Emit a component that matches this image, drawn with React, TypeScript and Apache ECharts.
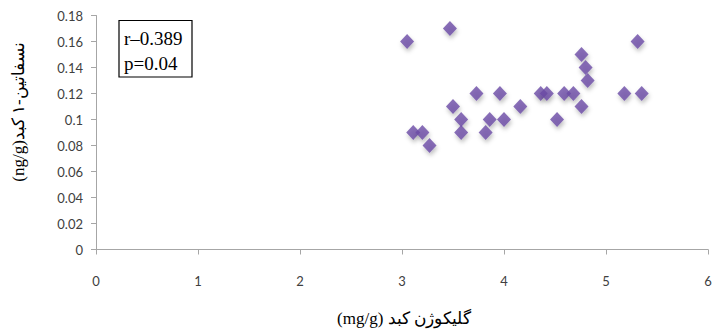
import React, { useEffect, useRef } from "react";
import * as echarts from "echarts";

const glycogen: number[] = [3.05, 3.47, 5.31, 4.76, 4.8, 4.82, 3.73, 3.96, 4.36, 4.42, 4.59, 4.68, 5.18, 5.35, 3.5, 4.16, 4.76, 3.58, 3.86, 4.0, 4.52, 3.11, 3.2, 3.58, 3.82, 3.27];
const nesfatin: number[] = [0.16, 0.17, 0.16, 0.15, 0.14, 0.13, 0.12, 0.12, 0.12, 0.12, 0.12, 0.12, 0.12, 0.12, 0.11, 0.11, 0.11, 0.1, 0.1, 0.1, 0.1, 0.09, 0.09, 0.09, 0.09, 0.08];
const xTicks: string[] = ["0", "1", "2", "3", "4", "5", "6"];
const yTicks: string[] = ["0", "0.02", "0.04", "0.06", "0.08", "0.1", "0.12", "0.14", "0.16", "0.18"];
const statLines: string[] = ["r–0.389", "p=0.04"];
const xTitle = "(mg/g) گلیکوژن کبد";
const yTitle = "(ng/g)نسفاتین-۱ کبد";

export default function App() {
  const ref = useRef<HTMLDivElement>(null);
  useEffect(() => {
    if (!ref.current) return;
    const chart = echarts.init(ref.current, null, { renderer: "svg" });
    const data = glycogen.map((x, i) => [x, nesfatin[i]]);
    chart.setOption({
      animation: false,
      backgroundColor: "#ffffff",
      grid: { left: 96, right: 7, top: 15.5, bottom: 83.5, containLabel: false },
      xAxis: {
        type: "value",
        min: 0,
        max: 6,
        interval: 1,
        axisLine: { show: true, lineStyle: { color: "#a6a6a6", width: 1 } },
        axisTick: { show: true, inside: false, length: 5, lineStyle: { color: "#a6a6a6" } },
        splitLine: { show: false },
        axisLabel: {
          margin: 25,
          color: "#404040",
          fontSize: 13,
          fontFamily: "Lato, 'Open Sans', sans-serif",
          formatter: (v: number) => xTicks[Math.round(v)] ?? "",
        },
      },
      yAxis: {
        type: "value",
        min: 0,
        max: 0.18,
        interval: 0.02,
        axisLine: { show: true, lineStyle: { color: "#a6a6a6", width: 1 } },
        axisTick: { show: true, inside: false, length: 5, lineStyle: { color: "#a6a6a6" } },
        splitLine: { show: false },
        axisLabel: {
          margin: 13,
          color: "#404040",
          fontSize: 13,
          fontFamily: "Lato, 'Open Sans', sans-serif",
          formatter: (v: number) => yTicks[Math.round(v / 0.02)] ?? "",
        },
      },
      series: [
        {
          type: "scatter",
          data,
          symbol: "diamond",
          symbolSize: [14, 15],
          itemStyle: {
            color: "#6a4aa5",
            shadowColor: "rgba(0,0,0,0.3)",
            shadowBlur: 4,
            shadowOffsetX: 1,
            shadowOffsetY: 3,
          },
        },
      ],
      graphic: [
        {
          type: "rect",
          shape: { x: 119, y: 20.5, width: 73, height: 56.5 },
          style: { fill: "#ffffff", stroke: "#000000", lineWidth: 1.2 },
        },
        {
          type: "text",
          x: 124,
          y: 38,
          style: {
            text: statLines[0],
            fill: "#000",
            font: "19px 'Liberation Serif', 'Times New Roman', serif",
            verticalAlign: "middle",
          },
        },
        {
          type: "text",
          x: 124,
          y: 63,
          style: {
            text: statLines[1],
            fill: "#000",
            font: "19px 'Liberation Serif', 'Times New Roman', serif",
            verticalAlign: "middle",
          },
        },
        {
          type: "text",
          x: 404,
          y: 318,
          style: {
            text: xTitle,
            fill: "#000",
            font: "17px 'Liberation Serif', 'DejaVu Serif', serif",
            align: "center",
            verticalAlign: "middle",
          },
        },
        {
          type: "text",
          x: 18,
          y: 112,
          rotation: Math.PI / 2,
          style: {
            text: yTitle,
            fill: "#000",
            font: "17px 'Liberation Serif', 'DejaVu Serif', serif",
            align: "center",
            verticalAlign: "middle",
          },
        },
      ],
    });
    return () => chart.dispose();
  }, []);
  return <div ref={ref} style={{ width: 715, height: 333, position: "absolute", left: 0, top: 0 }} />;
}
